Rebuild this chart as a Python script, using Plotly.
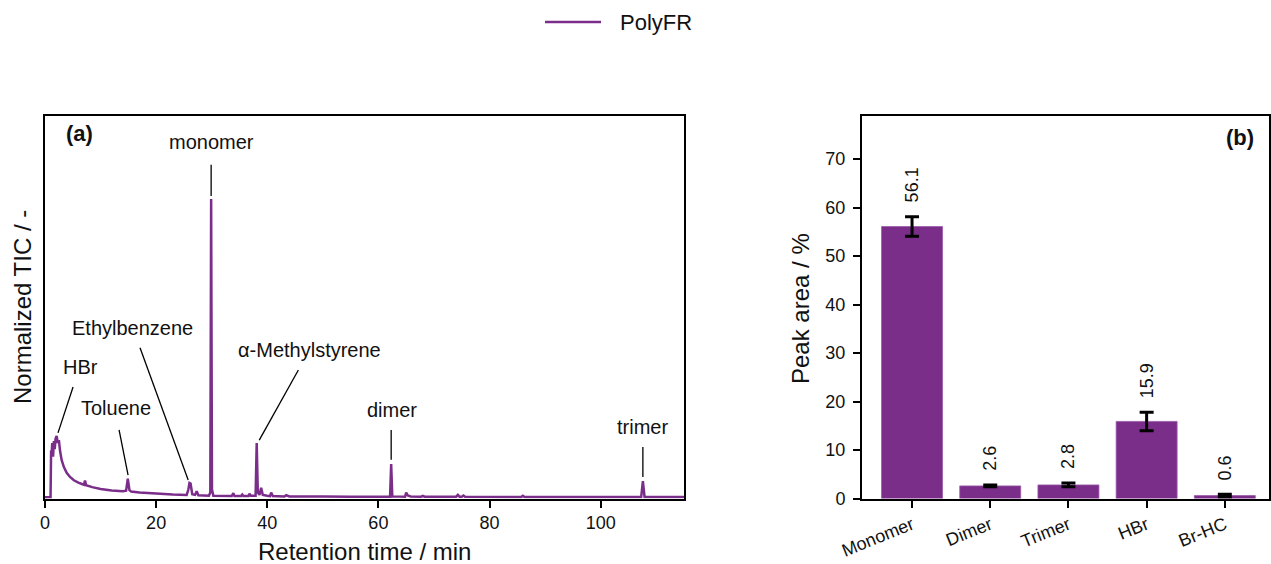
import plotly.graph_objects as go

# ---- (a) pyrolysis GC/MS chromatogram of PolyFR (TIC normalised to the monomer peak)
time_min = [0.0, 1.0, 1.1, 1.2, 1.3, 1.45, 1.6, 1.75, 1.9, 2.1, 2.3, 2.5, 2.7, 3.0,
            3.4, 3.9, 4.5, 5.2, 6.0, 6.8, 7.0, 7.2, 7.4, 8.5, 10.0, 12.0, 14.0, 14.6,
            14.9, 15.2, 15.5, 17.0, 20.0, 23.0, 25.5, 25.8, 26.0, 26.2, 26.5, 27.0,
            27.3, 27.6, 29.5, 29.75, 29.9, 30.05, 30.3, 32.0, 33.6, 33.9, 34.1, 35.3,
            35.5, 35.7, 36.3, 36.6, 36.8, 37.0, 37.9, 38.1, 38.3, 38.6, 38.9, 39.2,
            40.0, 40.5, 40.7, 41.0, 43.1, 43.4, 44.0, 46.2, 46.5, 46.8, 50.0, 55.0,
            60.0, 62.1, 62.3, 62.5, 64.8, 65.0, 65.3, 65.8, 67.7, 68.0, 68.3, 70.0,
            74.0, 74.3, 74.6, 75.0, 75.3, 75.6, 80.0, 85.7, 86.0, 86.3, 95.0, 100.0,
            107.3, 107.6, 107.9, 115.0]
tic_norm = [0.004, 0.004, 0.160, 0.150, 0.185, 0.140, 0.192, 0.165, 0.200, 0.209,
            0.185, 0.195, 0.160, 0.128, 0.105, 0.086, 0.072, 0.061, 0.053, 0.047,
            0.046, 0.060, 0.044, 0.038, 0.032, 0.027, 0.024, 0.026, 0.066, 0.028,
            0.023, 0.020, 0.016, 0.013, 0.012, 0.030, 0.052, 0.050, 0.014, 0.012,
            0.024, 0.011, 0.009, 0.020, 1.000, 0.030, 0.009, 0.008, 0.008, 0.018,
            0.008, 0.008, 0.013, 0.008, 0.008, 0.008, 0.016, 0.009, 0.009, 0.185,
            0.020, 0.012, 0.036, 0.012, 0.009, 0.008, 0.020, 0.008, 0.007, 0.011,
            0.007, 0.007, 0.009, 0.007, 0.007, 0.006, 0.006, 0.006, 0.115, 0.007,
            0.006, 0.020, 0.010, 0.007, 0.006, 0.009, 0.006, 0.006, 0.006, 0.012,
            0.006, 0.006, 0.010, 0.006, 0.005, 0.005, 0.009, 0.005, 0.005, 0.005,
            0.005, 0.058, 0.005, 0.005]

# peak labels: text, label position, pointer start, pointer end (data units)
peak_names = ["HBr", "Toluene", "Ethylbenzene", "monomer", "α-Methylstyrene", "dimer", "trimer"]
label_xy = [(6.3, 0.439), (12.8, 0.302), (15.7, 0.569), (29.9, 1.19),
            (47.6, 0.497), (62.5, 0.296), (107.6, 0.239)]
pointer_from = [(5.05, 0.372), (13.33, 0.229), (17.1, 0.503), (29.9, 1.114),
                (45.6, 0.429), (62.3, 0.229), (107.6, 0.172)]
pointer_to = [(2.34, 0.219), (14.95, 0.078), (25.77, 0.062), (29.9, 1.01),
              (38.56, 0.195), (62.3, 0.129), (107.6, 0.072)]

# ---- (b) peak area shares
categories = ["Monomer", "Dimer", "Trimer", "HBr", "Br-HC"]
peak_area = [56.1, 2.6, 2.8, 15.9, 0.6]
peak_area_err = [2.0, 0.2, 0.4, 1.9, 0.3]

PURPLE = "#7B2D8A"
FONT = "Liberation Sans, Arial, sans-serif"
W, H = 1271, 564


def px(x):
    return x / W


def py(y):
    return 1 - y / H


fig = go.Figure()

fig.add_trace(go.Scatter(
    x=time_min, y=tic_norm, mode="lines", name="PolyFR",
    line=dict(color=PURPLE, width=2.5), showlegend=False,
    xaxis="x", yaxis="y",
))

fig.add_trace(go.Bar(
    x=list(range(len(categories))), y=peak_area, width=0.78,
    marker=dict(color=PURPLE, line=dict(color="#9a5aa8", width=0.8)),
    error_y=dict(type="data", array=peak_area_err, color="black", thickness=3, width=7),
    showlegend=False, xaxis="x2", yaxis="y2",
))

shapes = []
annotations = []


def note(text, x, y, size, angle=0, xanchor="center", yanchor="middle", xref="paper", yref="paper", **kw):
    annotations.append(dict(text=text, x=x, y=y, xref=xref, yref=yref, showarrow=False,
                            textangle=angle, xanchor=xanchor, yanchor=yanchor,
                            font=dict(size=size, color="#111111", family=FONT), **kw))


# pointer lines and peak names in panel (a)
for name, (lx, ly), (x0, y0), (x1, y1) in zip(peak_names, label_xy, pointer_from, pointer_to):
    shapes.append(dict(type="line", xref="x", yref="y", x0=x0, y0=y0, x1=x1, y1=y1,
                       line=dict(color="black", width=1.3)))
    note(name, lx, ly, 20, xref="x", yref="y")

# value labels above the error bars in panel (b)
for i, (v, e) in enumerate(zip(peak_area, peak_area_err)):
    note(f"{v:.1f}", i, v + e, 18, angle=-90, yanchor="bottom", xref="x2", yref="y2", yshift=12)

# panel tags
note("<b>(a)</b>", px(79), py(134), 22)
note("<b>(b)</b>", px(1240), py(137), 22)

# axis titles
note("Retention time / min", px(364), py(551), 24)
note("Normalized TIC / -", px(22), py(307), 24, angle=-90)
note("Peak area / %", px(800), py(309), 24, angle=-90)

# legend entry
shapes.append(dict(type="line", xref="paper", yref="paper", x0=px(545), x1=px(601),
                   y0=py(22), y1=py(22), line=dict(color=PURPLE, width=2.5)))
note("PolyFR", px(618), py(22), 22, xanchor="left")

axis_common = dict(showline=True, linecolor="black", linewidth=2, mirror=True,
                   showgrid=False, zeroline=False, automargin=False,
                   tickfont=dict(size=18, color="#111111", family=FONT))

fig.update_layout(
    width=W, height=H,
    margin=dict(l=0, r=0, t=0, b=0),
    paper_bgcolor="white", plot_bgcolor="white",
    font=dict(family=FONT, color="#111111"),
    shapes=shapes, annotations=annotations,
    xaxis=dict(domain=[px(45), px(684)], range=[0, 115], anchor="y",
               tickmode="array", tickvals=[0, 20, 40, 60, 80, 100],
               ticks="outside", ticklen=7, tickwidth=2, tickcolor="black", **axis_common),
    yaxis=dict(domain=[py(498.5), py(116)], range=[0, 1.277], anchor="x",
               showticklabels=False, ticks="", **axis_common),
    xaxis2=dict(domain=[px(862), px(1269)], range=[-0.64, 4.565], anchor="y2",
                tickmode="array", tickvals=list(range(len(categories))), ticktext=categories,
                tickangle=-22, ticks="outside", ticklen=7, tickwidth=2, tickcolor="black",
                ticklabelstandoff=0, **axis_common),
    yaxis2=dict(domain=[py(498.5), py(116)], range=[0, 78.9], anchor="x2",
                tickmode="array", tickvals=[0, 10, 20, 30, 40, 50, 60, 70],
                ticks="outside", ticklen=7, tickwidth=2, tickcolor="black",
                ticklabelstandoff=4, **axis_common),
)

fig.write_html("out.html")
